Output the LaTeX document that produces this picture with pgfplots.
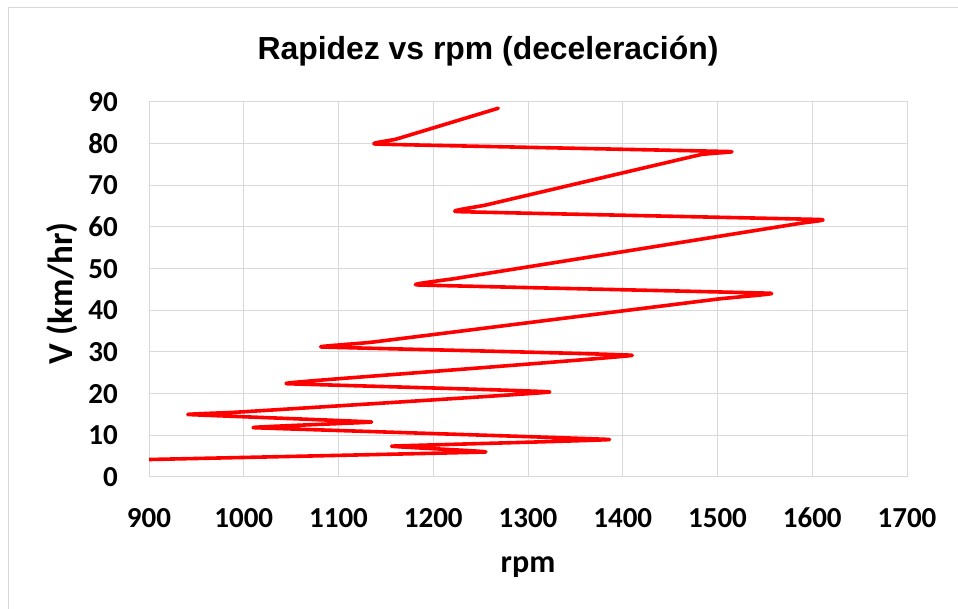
\documentclass[border=0pt]{standalone}
\usepackage{fontspec}
\setmainfont{Carlito}
\newfontfamily\titlefont{Liberation Sans}
\usepackage{pgfplots}
\pgfplotsset{compat=1.18}
\definecolor{gridgray}{HTML}{D9D9D9}
\begin{document}
\begin{tikzpicture}[x=1pt,y=1pt]
\path[use as bounding box] (0,0) rectangle (958,609);
\draw[gridgray, line width=1pt] (8,0) -- (8,601) -- (958,601);
\begin{axis}[
  at={(149pt,132pt)}, anchor=south west,
  scale only axis, width=758pt, height=375pt,
  xmin=900, xmax=1700, ymin=0, ymax=90,
  xtick={900,1000,...,1700}, ytick={0,10,...,90},
  grid=major, major grid style={gridgray, line width=1pt},
  axis line style={gridgray, line width=1pt},
  major tick length=0pt,
  /pgf/number format/assume math mode=true,
  /pgf/number format/set thousands separator={},
  tick label style={font=\fontsize{29}{30}\selectfont\bfseries, inner sep=0pt},
  xticklabel shift=31pt, yticklabel shift=31pt,
  xlabel={rpm}, ylabel={V (km/hr)},
  xlabel style={at={(axis description cs:0.5,-0.256)}, anchor=base, inner sep=0pt, font=\fontsize{32}{34}\selectfont\bfseries},
  ylabel style={at={(axis description cs:-0.1003,0.49)}, anchor=base, inner sep=0pt, font=\fontsize{35}{37}\selectfont\bfseries},
  clip=true,
]
\addplot[red, line width=3.6pt, smooth, tension=0.12, line join=round, line cap=round] coordinates {
(1268.6,88.5) (1161,81.1) (1140,79.9) (1513,78.1) (1481,77.3)
(1256,65.3) (1225,63.7) (1608,61.8) (1585,60.8)
(1225,47.7) (1183,46.1) (1556,44.1) (1500,42.7)
(1137,32.4) (1082,31.2) (1410,29.2)
(1101,23.6) (1045,22.4) (1323,20.4)
(996,15.6) (941,15.0) (1135,13.2) (1010,11.85)
(1386,9.0) (1156,7.4) (1255,6.0) (860,4.0)
};
\end{axis}
\node[anchor=base, inner sep=0pt, font=\titlefont\fontsize{31.9}{33}\selectfont\bfseries] at (488,549) {Rapidez vs rpm (deceleración)};
\end{tikzpicture}
\end{document}
